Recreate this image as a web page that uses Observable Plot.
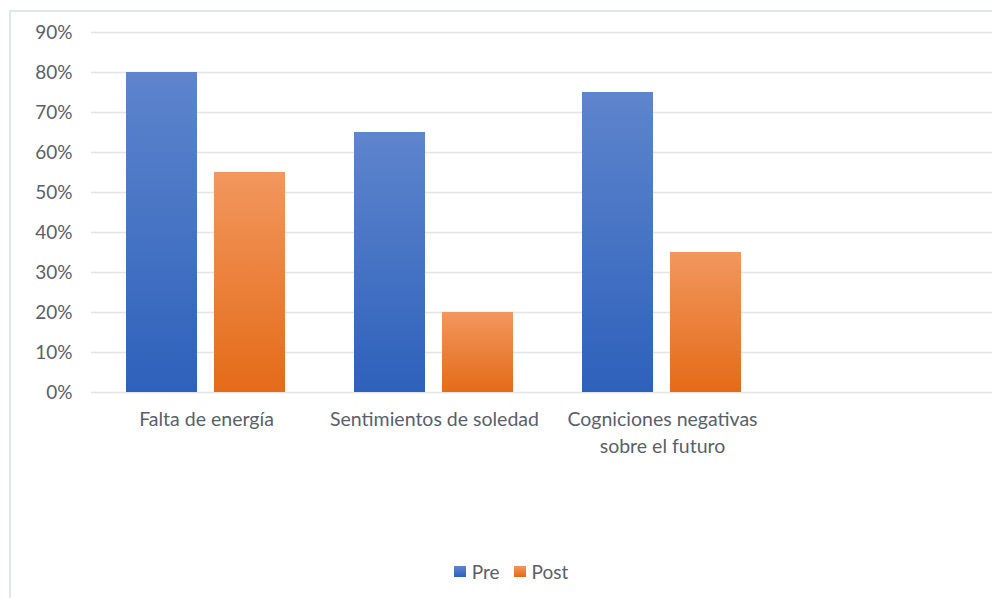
<!DOCTYPE html>
<html><head><meta charset="utf-8">
<script src="https://cdn.jsdelivr.net/npm/d3@7"></script>
<script src="https://cdn.jsdelivr.net/npm/@observablehq/plot@0.6"></script>
<style>
body{margin:0;background:#fff;}
#wrap{position:relative;width:992px;height:598px;overflow:hidden;font-family:Lato,sans-serif;}
#border{position:absolute;left:9px;top:10px;width:1000px;height:600px;border-left:2px solid #e2e5e9;border-top:2px solid #e2e5e9;box-sizing:border-box;}
#grid,#chart{position:absolute;left:0;top:0;}
#legend{position:absolute;top:560px;left:0;width:992px;display:flex;justify-content:center;align-items:center;font-size:19px;color:#595f6b;padding-left:30px;box-sizing:border-box;}
.item{display:flex;align-items:center;margin:0 7px;}
.sw{width:12px;height:11px;margin-right:6px;}
</style></head>
<body><div id="wrap"><div id="border"></div><div id="grid"></div><div id="chart"></div><div id="legend"></div></div>
<script>
const categories = ["Falta de energía", "Sentimientos de soledad", "Cogniciones negativas\nsobre el futuro"];
const series = ["Pre", "Post"];
const preValues = [80, 65, 75];
const postValues = [55, 20, 35];
const yTicks = [0, 10, 20, 30, 40, 50, 60, 70, 80, 90];
const seriesColors = {Pre: ["#5e85cd", "#2e61bb"], Post: ["#f2975e", "#e46b18"]};

const rows = [];
categories.forEach((c, i) => {
  rows.push({category: c, series: "Pre", value: preValues[i]});
  rows.push({category: c, series: "Post", value: postValues[i]});
});

const frame = {width: 992, height: 598, marginLeft: 91, marginRight: 0, marginTop: 32, marginBottom: 206};
const style = {fontFamily: "Lato, sans-serif", fontSize: "19px", color: "#595f6b", background: "transparent"};

// Background: gridlines and y axis across the whole plot width
const gridPlot = Plot.plot({
  ...frame, style,
  y: {domain: [0, 90], axis: null},
  marks: [
    Plot.ruleY(yTicks, {y: d => d, stroke: "#e1e4e8", strokeWidth: 1.5}),
    Plot.axisY(yTicks, {tickSize: 0, tickPadding: 19, tickFormat: d => d + "%", fontSize: 19, fill: "#595f6b"})
  ]
});
document.getElementById("grid").appendChild(gridPlot);

// Foreground: grouped bars
const plot = Plot.plot({
  ...frame, style,
  fx: {domain: categories, range: [92, 776], paddingInner: 0, paddingOuter: 0, axis: null, label: null},
  x: {domain: series, paddingInner: 0.19, paddingOuter: 0.39, axis: null},
  y: {domain: [0, 90], axis: null},
  marks: [
    Plot.barY(rows.filter(d => d.series === "Pre"), {fx: "category", x: "series", y: "value", fill: "url(#gPre)"}),
    Plot.barY(rows.filter(d => d.series === "Post"), {fx: "category", x: "series", y: "value", fill: "url(#gPost)"}),
    Plot.axisFx({anchor: "bottom", tickSize: 0, tickPadding: 15, label: null, fontSize: 19.5, fill: "#595f6b", lineHeight: 1.35})
  ]
});

const defs = d3.select(plot).insert("defs", ":first-child");
for (const s of series) {
  const g = defs.append("linearGradient").attr("id", "g" + s).attr("x1", 0).attr("y1", 0).attr("x2", 0).attr("y2", 1);
  g.append("stop").attr("offset", "0%").attr("stop-color", seriesColors[s][0]);
  g.append("stop").attr("offset", "100%").attr("stop-color", seriesColors[s][1]);
}
document.getElementById("chart").appendChild(plot);

const legend = d3.select("#legend");
for (const s of series) {
  const it = legend.append("div").attr("class", "item");
  it.append("div").attr("class", "sw").style("background", `linear-gradient(${seriesColors[s][0]}, ${seriesColors[s][1]})`);
  it.append("span").text(s);
}
</script></body></html>
